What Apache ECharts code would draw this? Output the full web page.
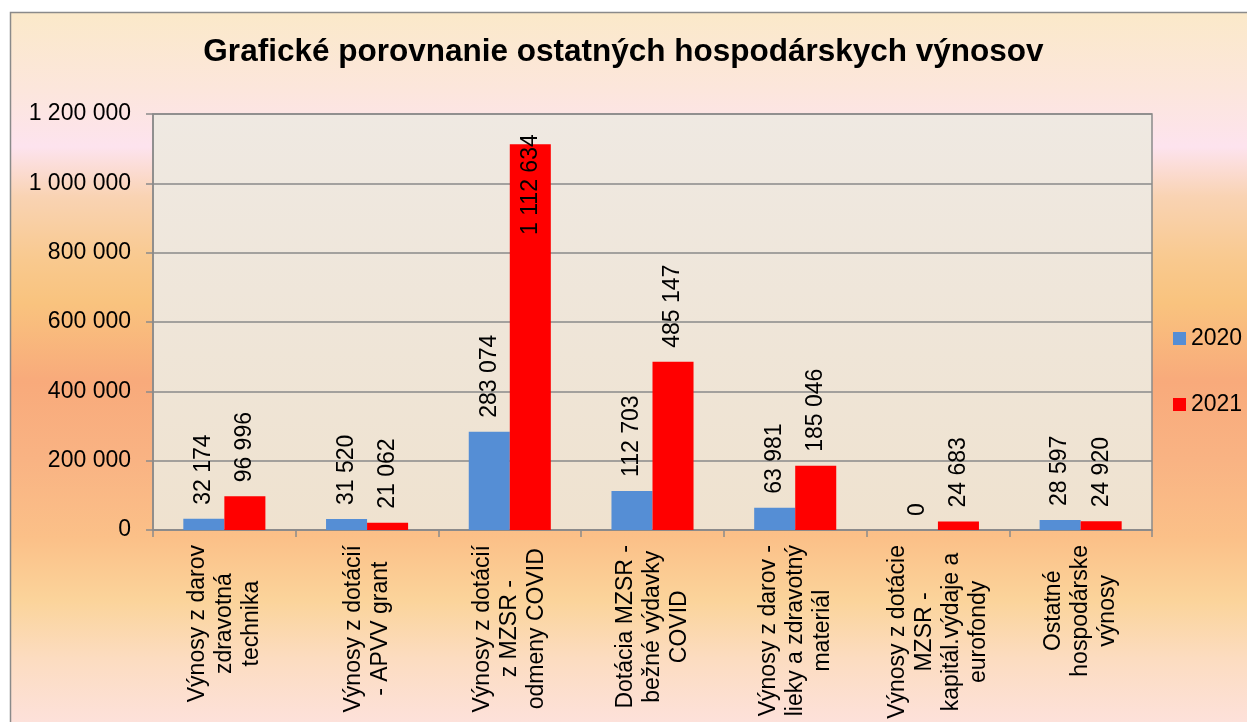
<!DOCTYPE html>
<html>
<head>
<meta charset="utf-8">
<script src="https://cdn.jsdelivr.net/npm/echarts@6/dist/echarts.min.js"></script>
<style>
html,body{margin:0;padding:0;background:#fff;}
#chart{width:1247px;height:722px;}
</style>
</head>
<body>
<div id="chart"></div>
<script>
const TITLE = 'Grafické porovnanie ostatných hospodárskych výnosov';
const categories = [
  'Výnosy z darov\nzdravotná\ntechnika',
  'Výnosy z dotácií\n- APVV grant',
  'Výnosy z dotácií\nz MZSR -\nodmeny COVID',
  'Dotácia MZSR -\nbežné výdavky\nCOVID',
  'Výnosy z darov -\nlieky a zdravotný\nmateriál',
  'Výnosy z dotácie\nMZSR -\nkapitál.výdaje a\neurofondy',
  'Ostatné\nhospodárske\nvýnosy'
];
const seriesNames = ['2020', '2021'];
const values2020 = [32174, 31520, 283074, 112703, 63981, 0, 28597];
const values2021 = [96996, 21062, 1112634, 485147, 185046, 24683, 24920];
const Y_MIN = 0, Y_MAX = 1200000, Y_INTERVAL = 200000;

const FONT = '"Liberation Sans", Arial, sans-serif';
const fmt = v => String(v).replace(/\B(?=(\d{3})+(?!\d))/g, ' ');

function buildData(vals) {
  return vals.map(v => v > Y_MAX * 0.85
    ? { value: v, label: { position: 'insideTop', align: 'right', distance: -10 } }
    : v);
}

const barLabel = {
  show: true, position: 'top', rotate: 90, align: 'left', verticalAlign: 'middle',
  distance: 14, fontSize: 23, fontFamily: FONT, color: '#000',
  formatter: p => fmt(p.value)
};

const chart = echarts.init(document.getElementById('chart'), null, { renderer: 'canvas' });
chart.setOption({
  animation: false,
  graphic: [{
    type: 'rect', z: -100, silent: true,
    shape: { x: 10.5, y: 12.5, width: 1300, height: 800 },
    style: {
      stroke: '#8a8a8a', lineWidth: 1.5,
      fill: {
        type: 'linear', x: 0, y: 12, x2: 0, y2: 722, global: true,
        colorStops: [
          { offset: 0.00, color: '#fbe9c9' },
          { offset: 0.11, color: '#fce6dc' },
          { offset: 0.19, color: '#fde3ee' },
          { offset: 0.26, color: '#f9d3b3' },
          { offset: 0.35, color: '#f9c98e' },
          { offset: 0.41, color: '#f9c37e' },
          { offset: 0.52, color: '#f8aa7b' },
          { offset: 0.63, color: '#f9b383' },
          { offset: 0.74, color: '#fbc088' },
          { offset: 0.83, color: '#fbd49b' },
          { offset: 0.91, color: '#fcdcc0' },
          { offset: 1.00, color: '#fde1da' }
        ]
      }
    }
  }],
  title: {
    text: TITLE, left: 'center', top: 31,
    textStyle: { fontSize: 31.5, fontWeight: 'bold', fontFamily: FONT, color: '#000' }
  },
  legend: {
    orient: 'vertical', left: 1173, top: 327, itemGap: 43, padding: 0,
    itemWidth: 13, itemHeight: 13, icon: 'rect',
    textStyle: { fontSize: 23, fontFamily: FONT, color: '#000', lineHeight: 23 },
    data: seriesNames
  },
  grid: {
    left: 153, top: 114, right: 95, bottom: 192,
    show: true, borderColor: '#8a8a8a', borderWidth: 1.5,
    backgroundColor: {
      type: 'linear', x: 0, y: 0, x2: 0, y2: 1,
      colorStops: [{ offset: 0, color: '#efe9e2' }, { offset: 1, color: '#efe2cf' }]
    }
  },
  xAxis: {
    type: 'category', data: categories,
    axisLine: { lineStyle: { color: '#8a8a8a', width: 1.5 } },
    axisTick: { show: true, length: 7, lineStyle: { color: '#8a8a8a', width: 1.5 } },
    axisLabel: {
      interval: 0, rotate: 90, margin: 15, fontSize: 23, fontFamily: FONT, color: '#000',
      lineHeight: 27,
      formatter: v => v.split('\n').map(s => '{c|' + s + '}').join('\n'),
      rich: { c: { align: 'center', fontSize: 23, fontFamily: FONT, color: '#000', lineHeight: 27 } }
    }
  },
  yAxis: {
    type: 'value', min: Y_MIN, max: Y_MAX, interval: Y_INTERVAL,
    axisLine: { show: true, lineStyle: { color: '#8a8a8a', width: 1.5 } },
    axisTick: { show: true, length: 7, lineStyle: { color: '#8a8a8a', width: 1.5 } },
    splitLine: { lineStyle: { color: '#8a8a8a', width: 1.5 } },
    axisLabel: { margin: 22, fontSize: 23, fontFamily: FONT, color: '#000', formatter: v => fmt(v) }
  },
  series: [
    { name: seriesNames[0], type: 'bar', data: buildData(values2020), barGap: '0%', barCategoryGap: '42.5%',
      itemStyle: { color: '#558ed5' }, label: barLabel },
    { name: seriesNames[1], type: 'bar', data: buildData(values2021), barGap: '0%', barCategoryGap: '42.5%',
      itemStyle: { color: '#ff0000' }, label: barLabel }
  ]
});
</script>
</body>
</html>
